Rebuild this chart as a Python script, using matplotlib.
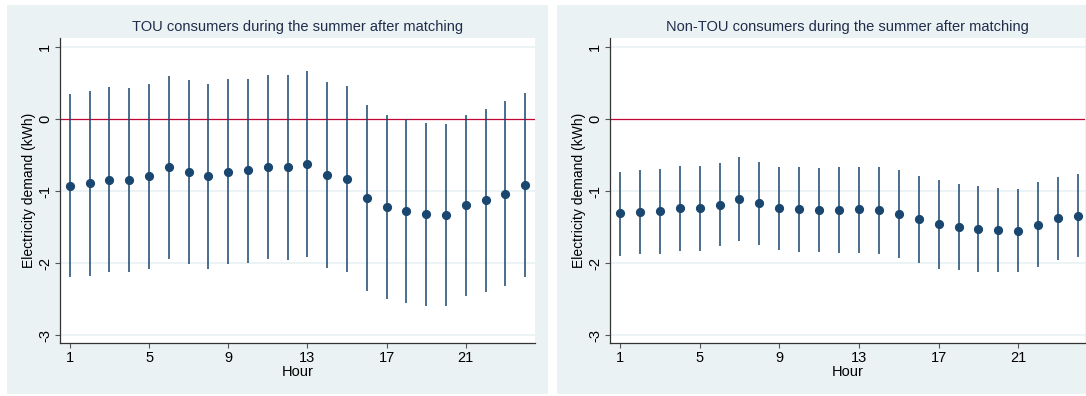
import matplotlib
matplotlib.use("Agg")
import matplotlib.pyplot as plt
from matplotlib.patches import Rectangle

plt.rcParams['font.family'] = ['Liberation Sans', 'DejaVu Sans']

HOURS = list(range(1, 25))

# TOU consumers: point estimates and 95% CI bounds
tou_coef = [-0.93, -0.89, -0.84, -0.85, -0.79, -0.67, -0.73, -0.79, -0.73, -0.71, -0.67, -0.67,
            -0.63, -0.78, -0.83, -1.10, -1.22, -1.28, -1.32, -1.33, -1.20, -1.13, -1.04, -0.92]
tou_hi = [0.35, 0.39, 0.44, 0.43, 0.48, 0.60, 0.54, 0.49, 0.55, 0.56, 0.61, 0.61,
          0.66, 0.51, 0.46, 0.19, 0.06, 0.00, -0.06, -0.07, 0.06, 0.14, 0.25, 0.36]
tou_lo = [-2.20, -2.18, -2.12, -2.13, -2.08, -1.95, -2.02, -2.08, -2.02, -2.00, -1.95, -1.96,
          -1.91, -2.07, -2.12, -2.39, -2.50, -2.56, -2.59, -2.59, -2.46, -2.40, -2.32, -2.20]

# Non-TOU consumers
non_coef = [-1.31, -1.29, -1.28, -1.24, -1.24, -1.19, -1.11, -1.16, -1.24, -1.25, -1.26, -1.26,
            -1.25, -1.26, -1.32, -1.39, -1.46, -1.50, -1.53, -1.54, -1.55, -1.47, -1.38, -1.34]
non_hi = [-0.74, -0.71, -0.69, -0.65, -0.65, -0.61, -0.53, -0.59, -0.66, -0.67, -0.68, -0.67,
          -0.66, -0.66, -0.71, -0.79, -0.85, -0.90, -0.93, -0.96, -0.97, -0.88, -0.81, -0.76]
non_lo = [-1.90, -1.88, -1.88, -1.83, -1.83, -1.77, -1.69, -1.75, -1.82, -1.84, -1.85, -1.86,
          -1.86, -1.88, -1.93, -2.00, -2.08, -2.10, -2.12, -2.13, -2.13, -2.05, -1.96, -1.92]

TITLES = ["TOU consumers during the summer after matching",
          "Non-TOU consumers during the summer after matching"]
XTICKS = [1, 5, 9, 13, 17, 21]
YTICKS = [1, 0, -1, -2, -3]

NAVY = '#1A476F'
BG = '#EAF2F3'
W, H = 1086, 396

fig = plt.figure(figsize=(W / 100, H / 100), dpi=100, facecolor='white')

# panel backgrounds (pixel boxes -> figure fraction), kept behind the axes
for x0, x1 in [(7, 548), (557, 1086)]:
    fig.patches.append(Rectangle((x0 / W, (H - 394) / H), (x1 - x0) / W, (394 - 5) / H,
                                 transform=fig.transFigure, facecolor=BG, edgecolor='none', zorder=-10))


def drawPanel(Left_Px, Right_Px, Coef, Lo, Hi, Title, X_Max):
    ax = fig.add_axes([Left_Px / W, (H - 343) / H, (Right_Px - Left_Px) / W, (343 - 38) / H])
    ax.set_zorder(5)
    ax.set_facecolor('white')
    for y in [1, -1, -2, -3]:
        ax.axhline(y, color=BG, lw=1.3, zorder=1)
    ax.axhline(0, color='#C10534', lw=0.9, zorder=2)
    ax.vlines(HOURS, Lo, Hi, color=NAVY, lw=1.3, alpha=0.85, zorder=3)
    ax.plot(HOURS, Coef, 'o', color=NAVY, ms=5.6, mec=NAVY, zorder=4)
    ax.set_xlim(0.5, X_Max)
    ax.set_ylim(-3.11, 1.125)
    ax.set_xticks(XTICKS)
    ax.set_yticks(YTICKS)
    ax.set_yticklabels([str(v) for v in YTICKS], rotation=90, va='center')
    ax.tick_params(axis='both', direction='out', length=3.5, width=0.8, color='#555555',
                   labelsize=10.5, pad=2)
    for s in ['top', 'right']:
        ax.spines[s].set_visible(False)
    for s in ['left', 'bottom']:
        ax.spines[s].set_color('#333333')
        ax.spines[s].set_linewidth(0.9)
    ax.set_xlabel('Hour', fontsize=10.5, labelpad=0)
    ax.set_ylabel('Electricity demand (kWh)', fontsize=10, labelpad=2)
    ax.set_title(Title, fontsize=10.5, color='#1F2D4B', pad=5)
    return ax


drawPanel(60, 535, tou_coef, tou_lo, tou_hi, TITLES[0], 24.5)
drawPanel(610, 1085, non_coef, non_lo, non_hi, TITLES[1], 24.35)

fig.savefig("out.png", dpi=100, facecolor='white')
